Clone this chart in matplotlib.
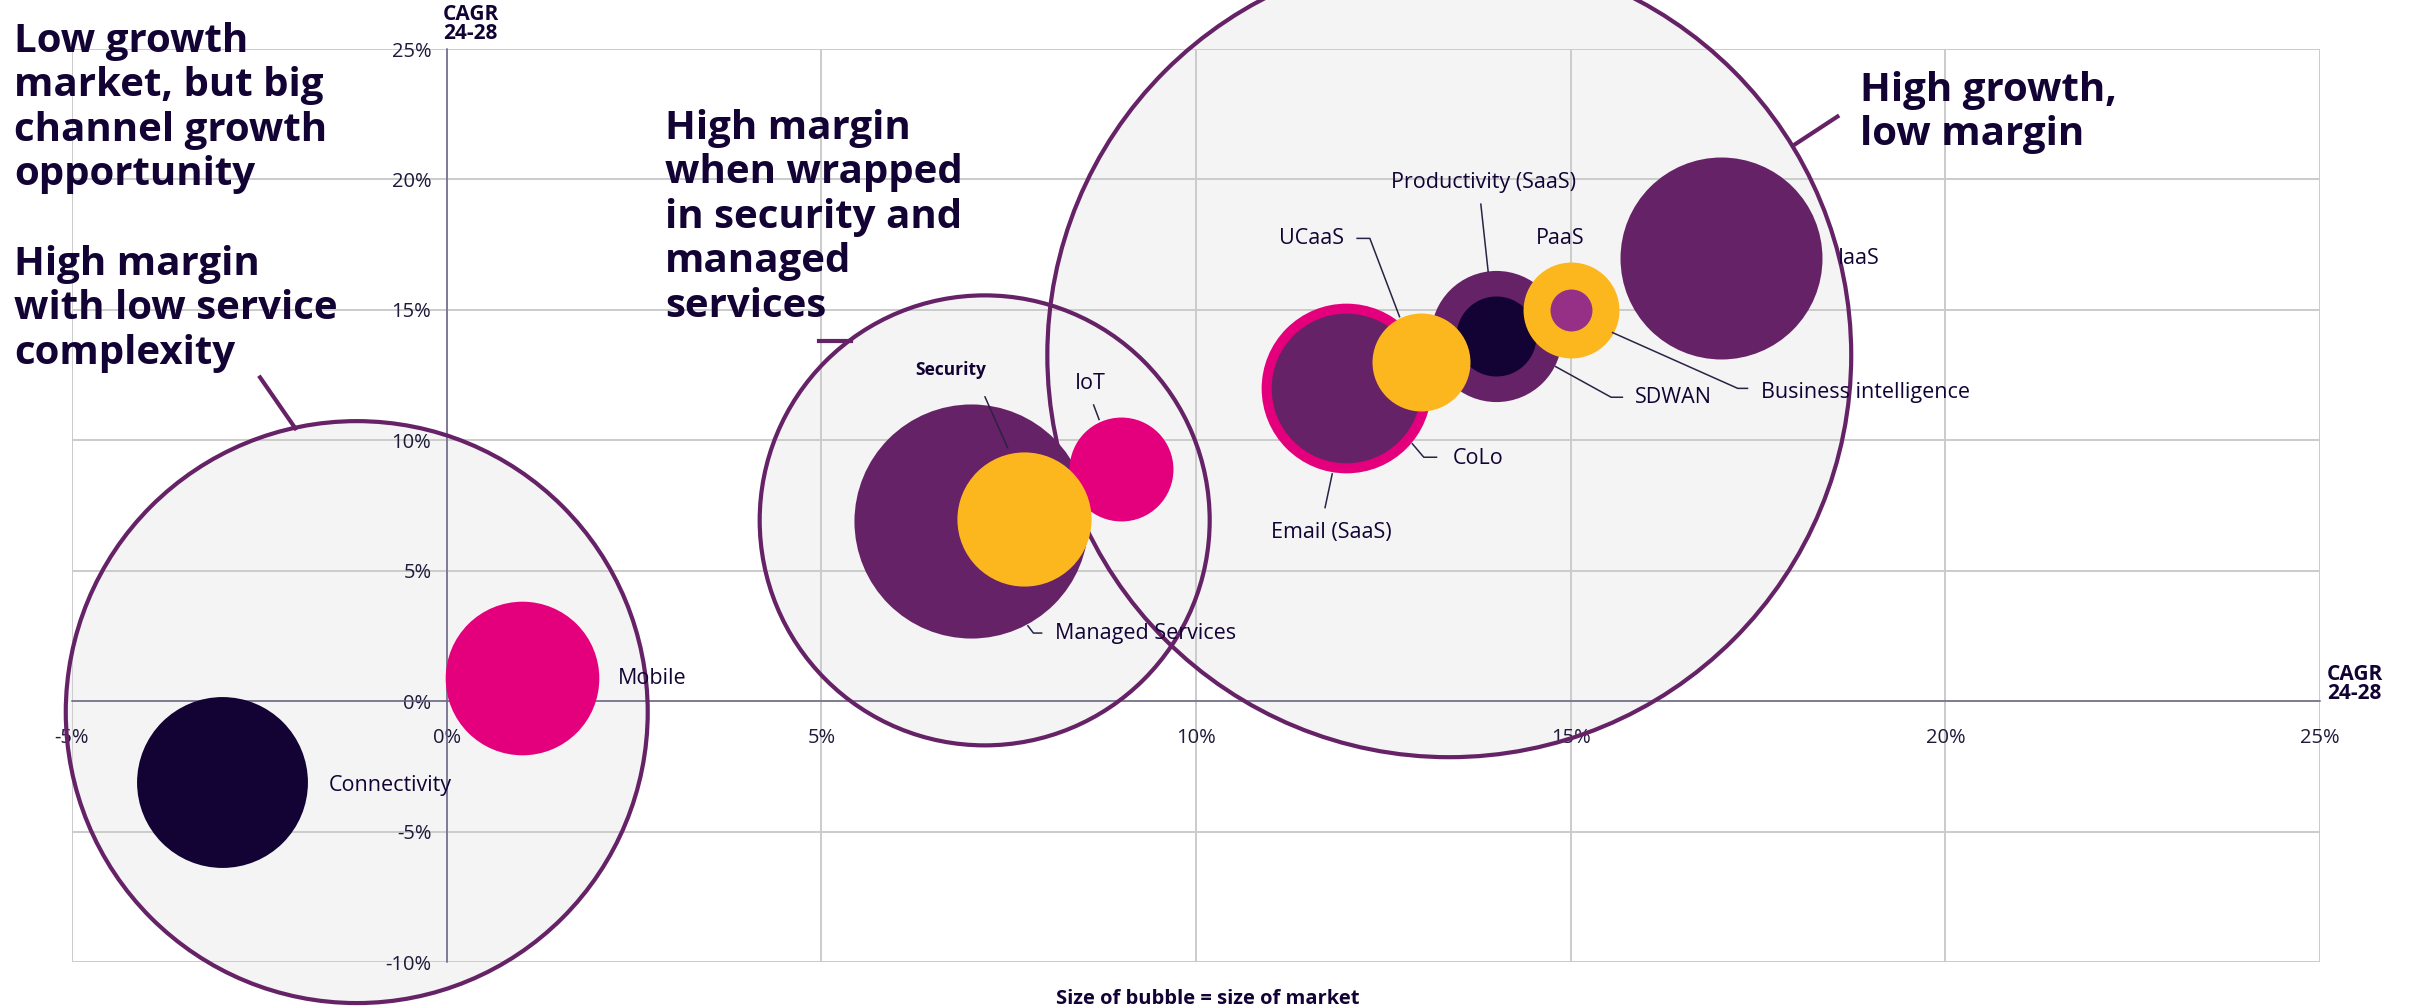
import matplotlib.pyplot as plt
from matplotlib.lines import Line2D

plt.rcParams['font.family'] = ['Open Sans', 'DejaVu Sans']

# market segments: CAGR 24-28 (x), margin growth (y), relative market size
segments = ['Connectivity', 'Mobile', 'Managed Services', 'IoT', 'Security',
            'Email (SaaS)', 'CoLo', 'Productivity (SaaS)', 'SDWAN', 'UCaaS',
            'PaaS', 'Business intelligence', 'IaaS']
cagr_x = [-3.0, 1.0, 7.0, 9.0, 7.7, 12.0, 12.0, 14.0, 14.0, 13.0, 15.0, 15.0, 17.0]
cagr_y = [-3.1, 0.9, 6.9, 8.9, 7.0, 12.0, 12.0, 14.0, 14.0, 13.0, 15.0, 15.0, 17.0]
market_size = [73, 59, 137, 27, 45, 72, 56, 43, 16, 24, 23, 4.4, 102]

ticks = [-5, 0, 5, 10, 15, 20, 25]
yticks = [-10, -5, 0, 5, 10, 15, 20, 25]
tick_labels_x = ['-5%', '0%', '5%', '10%', '15%', '20%', '25%']
tick_labels_y = ['-10%', '-5%', '0%', '5%', '10%', '15%', '20%', '25%']

NAVY = '#120334'
PURPLE = '#662266'
PINK = '#e4007c'
YELLOW = '#fdb71e'
MAGENTA = '#963087'
colors = [NAVY, PINK, PURPLE, PINK, YELLOW, PINK, PURPLE, PURPLE, NAVY,
          YELLOW, YELLOW, MAGENTA, PURPLE]

DPI = 100
# radius in px = 10 * sqrt(size)  ->  scatter area in pt^2
BUBBLE_SCALE = (2 * 10 * 72 / DPI) ** 2

fig = plt.figure(figsize=(24.12, 10.08), dpi=DPI)
ax = fig.add_axes([72 / 2412, 1 - 962 / 1008, (2320 - 72) / 2412, (962 - 49) / 1008])
ax.set_xlim(-5, 25)
ax.set_ylim(-10, 25)

# grid and zero axes
ax.set_xticks(ticks)
ax.set_yticks(yticks)
ax.set_xticklabels(tick_labels_x)
ax.set_yticklabels(tick_labels_y)
ax.grid(True, color='#cbcbcb', lw=1.4, zorder=1)
ax.set_axisbelow(True)
for gl in ax.get_xgridlines() + ax.get_ygridlines():
    gl.set_clip_on(False)
for s in ['top', 'right']:
    ax.spines[s].set_visible(False)
for s in ['left', 'bottom']:
    ax.spines[s].set_position('zero')
    ax.spines[s].set_color('#6b6587')
    ax.spines[s].set_linewidth(1.1)
    ax.spines[s].set_zorder(1.2)
ax.tick_params(axis='x', length=0, pad=19, labelsize=14.5, labelcolor='#1d1a3a')
ax.tick_params(axis='y', length=0, pad=11, labelsize=14.5, labelcolor='#1d1a3a')
ax.patch.set_visible(False)

# grouping circles (centre in data, radius in points)
groups = [(-1.20, -0.42, 209.5), (7.18, 6.93, 162.0), (13.38, 13.26, 289.4)]
for gx, gy, r in groups:
    ax.scatter([gx], [gy], s=(2 * r) ** 2, facecolor='#f4f4f4', edgecolor='none',
               zorder=0.5, clip_on=False)
    ax.scatter([gx], [gy], s=(2 * r) ** 2, facecolor='none', edgecolor=PURPLE,
               linewidth=3, zorder=1.5, clip_on=False)

# bubbles
for i in range(len(segments)):
    ax.scatter([cagr_x[i]], [cagr_y[i]], s=market_size[i] * BUBBLE_SCALE,
               color=colors[i], linewidth=0, zorder=3 + i)

# bubble labels: text position, alignment, leader polyline
labels = {
    'Connectivity': ((-1.58, -3.22), 'left', None),
    'Mobile': ((2.29, 0.88), 'left', None),
    'Managed Services': ((8.12, 2.61), 'left', [(7.95, 2.61), (7.83, 2.61), (7.75, 2.91)]),
    'IoT': ((8.59, 12.18), 'center', [(8.63, 11.38), (8.71, 10.77)]),
    'Security': ((6.72, 12.68), 'center', [(7.18, 11.69), (7.49, 9.69)]),
    'Email (SaaS)': ((11.80, 6.48), 'center', [(11.72, 7.39), (11.82, 8.74)]),
    'CoLo': ((13.42, 9.31), 'left', [(13.22, 9.35), (13.04, 9.35), (12.88, 9.89)]),
    'Productivity (SaaS)': ((13.84, 19.89), 'center', [(13.80, 19.08), (13.90, 16.44)]),
    'SDWAN': ((15.86, 11.65), 'left', [(15.70, 11.65), (15.54, 11.65), (14.79, 12.84)]),
    'UCaaS': ((11.54, 17.74), 'center', [(12.14, 17.74), (12.32, 17.74), (12.72, 14.71)]),
    'PaaS': ((14.86, 17.74), 'center', None),
    'Business intelligence': ((17.54, 11.84), 'left',
                              [(17.37, 11.99), (17.23, 11.99), (15.55, 14.14)]),
    'IaaS': ((18.57, 16.97), 'left', None),
}
for name, (pos, ha, leader) in labels.items():
    bold = name == 'Security'
    ax.text(pos[0], pos[1], name, ha=ha, va='center',
            fontsize=12.5 if bold else 15.5, fontweight='bold' if bold else 'normal',
            color=NAVY, zorder=30)
    if leader:
        ax.plot([p[0] for p in leader], [p[1] for p in leader], color='#2a2346',
                lw=1.1, zorder=29, solid_capstyle='butt')

# pointers from headline text to the grouping circles
pointers = [[(-2.49, 12.41), (-2.02, 10.46)],
            [(4.97, 13.79), (5.40, 13.79)],
            [(18.56, 22.41), (17.97, 21.30)]]
for pts in pointers:
    ax.add_line(Line2D([p[0] for p in pts], [p[1] for p in pts], color=PURPLE,
                       lw=3, zorder=2, clip_on=False))

head = dict(fontsize=29, fontweight='bold', color=NAVY, va='top', ha='left',
            linespacing=1.18)
fig.text(14 / 2412, 1 - 22 / 1008,
         'Low growth\nmarket, but big\nchannel growth\nopportunity', **head)
fig.text(14 / 2412, 1 - 245 / 1008,
         'High margin\nwith low service\ncomplexity', **head)
fig.text(665 / 2412, 1 - 109 / 1008,
         'High margin\nwhen wrapped\nin security and\nmanaged\nservices', **head)
fig.text(1860 / 2412, 1 - 71 / 1008, 'High growth,\nlow margin', **head)

axis_lbl = dict(fontsize=15, fontweight='bold', color=NAVY, va='top', ha='left',
                linespacing=0.9)
fig.text(443 / 2412, 1 - 4 / 1008, 'CAGR\n24-28', **axis_lbl)
fig.text(2327 / 2412, 1 - 664 / 1008, 'CAGR\n24-28', **axis_lbl)

fig.text(1208 / 2412, 1 - 999 / 1008, 'Size of bubble = size of market',
         fontsize=14.5, fontweight='bold', color=NAVY, ha='center', va='center')

fig.savefig('out.png', dpi=DPI)
